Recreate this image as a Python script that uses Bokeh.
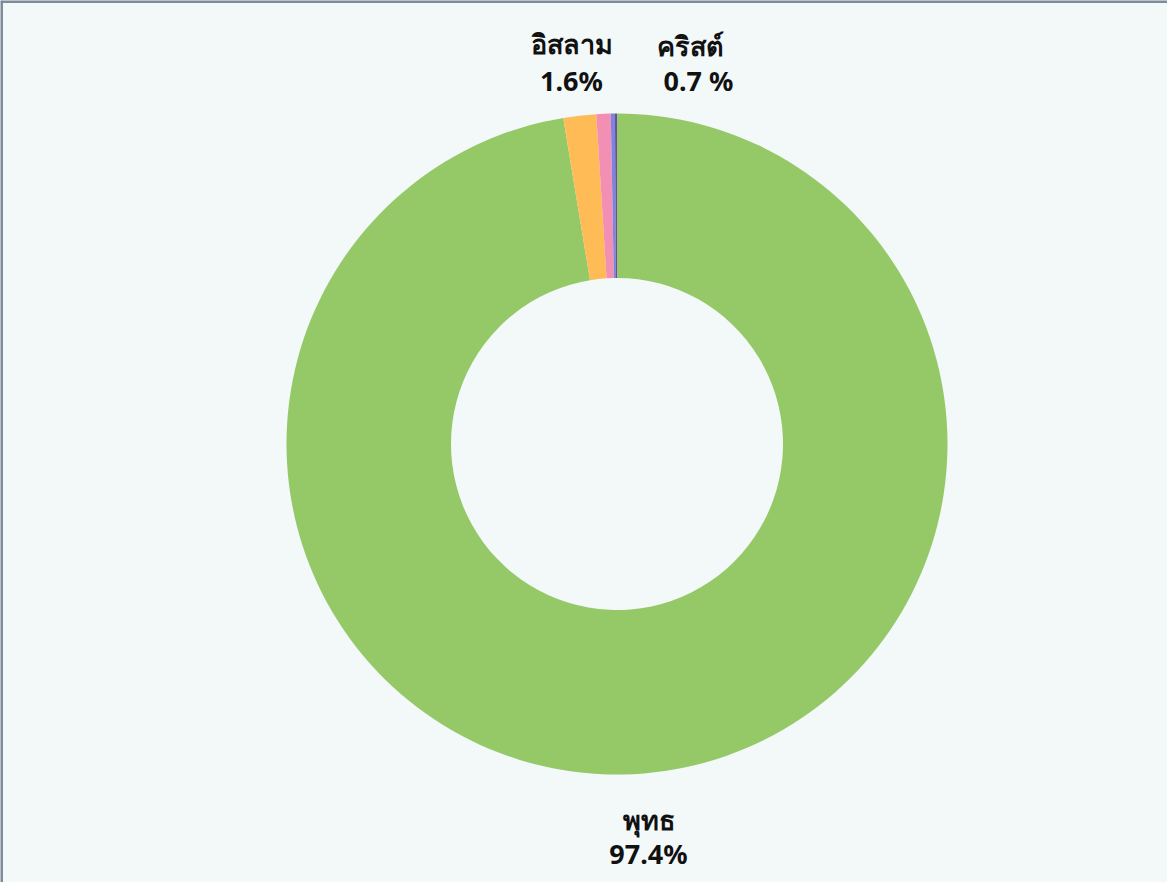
import math
from bokeh.plotting import figure
from bokeh.models import ColumnDataSource, Span
from bokeh.core.properties import value
from bokeh.embed import file_html
from bokeh.resources import INLINE

# ---- data ----
religions = ["พุทธ", "อิสลาม", "คริสต์", "อื่นๆ", "ไม่ระบุ"]
shares = [97.4, 1.6, 0.7, 0.2, 0.1]
colors = ["#95c968", "#ffbb55", "#f48fb4", "#7b84e0", "#6c4f9a"]
label_names = ["พุทธ", "อิสลาม", "คริสต์"]
label_values = ["97.4%", "1.6%", "0.7 %"]

# ---- layout (pixel-like data space) ----
W, H = 1167, 882
CX, CY = 616.5, 438.5
R_OUT, R_IN = 330.5, 166
label_x = [648, 571, 690]
name_y = [H - 819, H - 43, H - 45]
val_y = [H - 853, H - 80, H - 80]
val_x = [648, 571, 698]

total = sum(shares)
starts, ends = [], []
cum = 0.0
for s in shares:
    starts.append(math.pi / 2 - 2 * math.pi * cum / total)
    cum += s
    ends.append(math.pi / 2 - 2 * math.pi * cum / total)

src = ColumnDataSource(dict(name=religions, share=shares, color=colors,
                            start=starts, end=ends,
                            x=[CX] * len(shares), y=[CY] * len(shares)))

p = figure(width=W, height=H, x_range=(0, W), y_range=(0, H),
           output_backend="svg", toolbar_location=None,
           min_border=0, background_fill_color="#f3f8f9",
           border_fill_color="#f3f8f9")
p.axis.visible = False
p.grid.visible = False
p.outline_line_color = None

p.annular_wedge(x="x", y="y", inner_radius=R_IN, outer_radius=R_OUT,
                start_angle="start", end_angle="end", direction="clock",
                fill_color="color", line_color=None, source=src)

p.add_layout(Span(location=1, dimension="height", line_color="#7f8b98", line_width=3))
p.add_layout(Span(location=H - 1, dimension="width", line_color="#7f8b98", line_width=3))

font = value("Noto Sans")
p.text(x=label_x, y=name_y, text=label_names, text_font=font,
       text_font_size="27px", text_font_style="bold", text_color="#111111",
       text_align="center", text_baseline="middle")
p.text(x=val_x, y=val_y, text=label_values, text_font=font,
       text_font_size="27px", text_font_style="bold", text_color="#111111",
       text_align="center", text_baseline="middle")

open("out.html", "w").write(file_html(p, INLINE))
